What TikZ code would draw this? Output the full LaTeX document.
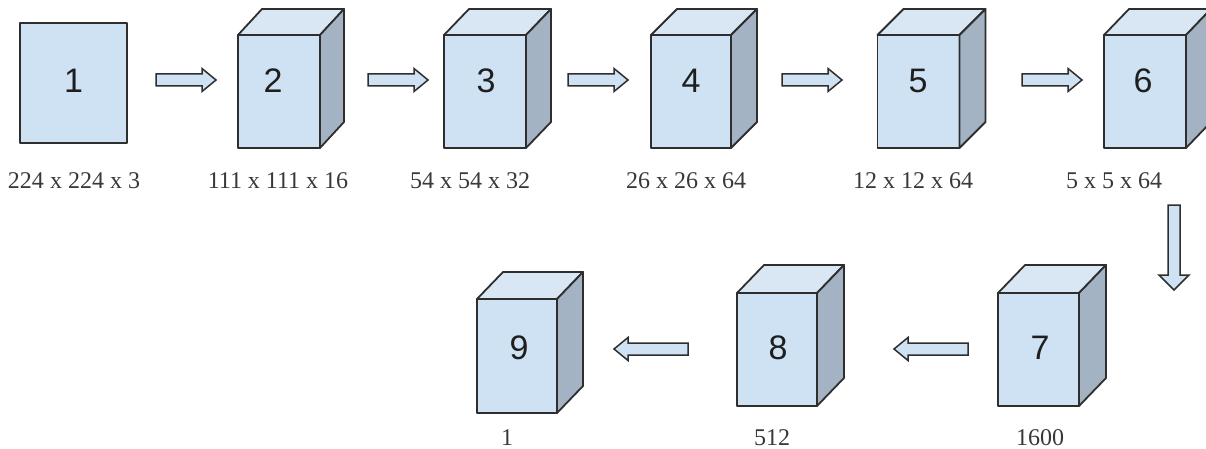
\documentclass[tikz,border=0pt]{standalone}
\usepackage{fontspec}
\setmainfont{Liberation Serif}
\newfontfamily\numfont{Liberation Sans}
\usetikzlibrary{calc}
\definecolor{frontc}{HTML}{CFE2F3}
\definecolor{topc}{HTML}{D9E7F5}
\definecolor{sidec}{HTML}{A3B3C3}
\definecolor{edgec}{HTML}{2E2E2E}
\definecolor{labc}{HTML}{383838}
\definecolor{numc}{HTML}{1E1E1E}
\tikzset{
  face/.style={draw=edgec, line width=1.8pt, line join=round},
  front/.style={face, fill=frontc, outer sep=0pt, inner sep=0pt, minimum width=82pt, minimum height=113pt},
  topf/.style={face, fill=topc},
  sidef/.style={face, fill=sidec},
  arr/.style={draw=edgec, fill=frontc, line width=1.5pt, line join=miter},
  num/.style={font=\numfont\fontsize{34}{40}\selectfont, text=numc, inner sep=0pt},
  lab/.style={font=\fontsize{24}{28}\selectfont, text=labc, anchor=base, inner sep=0pt}
}
\newcommand\cubefaces[3]{%
  \filldraw[topf] (#1.north west) -- ++(#2,-#3) -- ($(#1.north east)+(#2,-#3)$) -- (#1.north east) -- cycle;
  \filldraw[sidef] (#1.north east) -- ++(#2,-#3) -- ($(#1.south east)+(#2,-#3)$) -- (#1.south east) -- cycle;}
\newcommand\blockarrow[6]{%
  \filldraw[arr, shift={(#1,#2)}, rotate=#3] (0,-6) -- ({#4-#6},-6) -- ({#4-#6},-#5) -- (#4,0) -- ({#4-#6},#5) -- ({#4-#6},6) -- (0,6) -- cycle;}
\begin{document}
\begin{tikzpicture}[x=1pt,y=-1pt]
\useasboundingbox (0,0) rectangle (1206,449);
% row 1
\node[front, minimum width=107pt, minimum height=120pt] (f1) at (73.5,83) {};
\node[front] (f2) at (279,91.5) {};
\node[front] (f3) at (485,91.5) {};
\node[front, minimum width=80pt] (f4) at (691,91.5) {};
\node[front] (f5) at (918.5,91.5) {};
\node[front] (f6) at (1145,91.5) {};
\cubefaces{f2}{24}{26}
\cubefaces{f3}{25}{26}
\cubefaces{f4}{26}{26}
\cubefaces{f5}{26}{26}
\cubefaces{f6}{25}{26}
% row 2
\node[front, minimum width=81pt] (f7) at (1038.5,349.5) {};
\node[front, minimum width=80pt] (f8) at (777,349.5) {};
\node[front, minimum width=80pt, minimum height=114pt] (f9) at (517,356) {};
\cubefaces{f7}{27}{28}
\cubefaces{f8}{27}{28}
\cubefaces{f9}{26}{27}
% numbers
\node[num] (n1) at (73.5,81) {1};
\node[num] (n2) at (273,81) {2};
\node[num] (n3) at (486,81) {3};
\node[num] (n4) at (691,81) {4};
\node[num] (n5) at (918,81) {5};
\node[num] (n6) at (1143,81) {6};
\node[num] (n7) at (1040,348) {7};
\node[num] (n8) at (778,348) {8};
\node[num] (n9) at (519,348) {9};
% labels
\node[lab] (l1) at (74,188) {224 x 224 x 3};
\node[lab] (l2) at (278,188) {111 x 111 x 16};
\node[lab] (l3) at (470,188) {54 x 54 x 32};
\node[lab] (l4) at (686,188) {26 x 26 x 64};
\node[lab] (l5) at (913,188) {12 x 12 x 64};
\node[lab] (l6) at (1114,188) {5 x 5 x 64};
\node[lab] (l7) at (1040,445) {1600};
\node[lab] (l8) at (772,445) {512};
\node[lab] (l9) at (507,445) {1};
% arrows
\blockarrow{156}{80}{0}{60}{11.5}{14}
\blockarrow{368}{80}{0}{60}{11.5}{14}
\blockarrow{568}{80}{0}{60}{11.5}{14}
\blockarrow{782}{80}{0}{60}{11.5}{14}
\blockarrow{1022}{80}{0}{60}{11.5}{14}
\blockarrow{1174}{205}{-90}{85}{15}{15}
\blockarrow{968}{349}{180}{74}{11.5}{14}
\blockarrow{688}{349}{180}{74}{11.5}{14}
\end{tikzpicture}
\end{document}
